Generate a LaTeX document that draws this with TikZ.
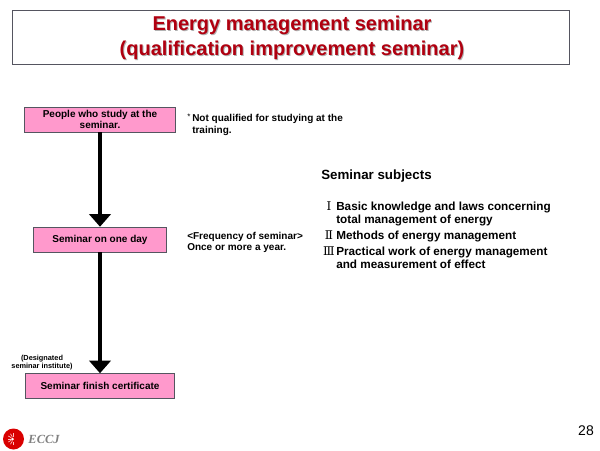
\documentclass[tikz,border=0pt]{standalone}
\usepackage{fontspec}
\setmainfont{Liberation Sans}
\newfontfamily\romanfont{DejaVu Serif}
\newfontfamily\logofont{Liberation Serif}
\usetikzlibrary{arrows.meta}
\definecolor{boxcolor}{HTML}{FF99CC}
\definecolor{titlecolor}{HTML}{B00010}
\definecolor{framecolor}{HTML}{555560}
\tikzset{
  stepbox/.style={draw=framecolor, fill=boxcolor, minimum height=18.75pt, align=center, inner sep=0pt, font=\fontsize{7.5}{7.9}\selectfont\bfseries},
  flow/.style={line width=3pt, -{Triangle[length=9.5pt, width=16pt]}},
  note/.style={anchor=north west, align=left, inner sep=0pt, font=\fontsize{7.5}{9}\selectfont\bfseries},
  subject/.style={anchor=north west, align=left, inner sep=0pt, font=\fontsize{8.8}{9.5}\selectfont\bfseries},
  numeral/.style={anchor=north, inner sep=0pt, font=\romanfont\fontsize{9}{10}\selectfont}
}
\begin{document}
\begin{tikzpicture}[x=0.75pt, y=-0.75pt]
  \useasboundingbox (0,0) rectangle (600,450);
  \node[draw=framecolor, line width=0.7pt, minimum width=418pt, minimum height=40.5pt, anchor=north west] (frame) at (12,10) {};
  \node[text=black!30, align=center, font=\fontsize{15}{18.8}\selectfont\bfseries] (shade) at (293,38.5) {Energy management seminar\\(qualification improvement seminar)};
  \node[text=titlecolor, align=center, font=\fontsize{15}{18.8}\selectfont\bfseries] (title) at (292,37.5) {Energy management seminar\\(qualification improvement seminar)};

  \node[stepbox, minimum width=113pt] (people) at (100,119.5) {People who study at the\\seminar.};
  \node[stepbox, minimum width=100pt] (oneday) at (100,239.5) {Seminar on one day};
  \node[stepbox, minimum width=112pt] (finish) at (100,386) {Seminar finish certificate};
  \draw[flow] (people) -- (oneday);
  \draw[flow] (oneday) -- (finish);

  \node[note, font=\fontsize{6}{7}\selectfont] (asterisk) at (187,114) {*};
  \node[note] (notqual) at (192,114) {Not qualified for studying at the\\training.};
  \node[note, font=\fontsize{7.5}{8.2}\selectfont\bfseries] (freq) at (187,232) {<Frequency of seminar>\\Once or more a year.};
  \node[align=center, inner sep=0pt, font=\fontsize{5.5}{6}\selectfont\bfseries] (institute) at (42,363) {(Designated\\seminar institute)};

  \node[note, font=\fontsize{10}{12}\selectfont\bfseries] (subjects) at (321,170) {Seminar subjects};
  \node[numeral] (numone) at (329,201.5) {Ⅰ};
  \node[subject] (subone) at (336,202) {Basic knowledge and laws concerning\\total management of energy};
  \node[numeral] (numtwo) at (329,230) {Ⅱ};
  \node[subject] (subtwo) at (336,231) {Methods of energy management};
  \node[numeral] (numthree) at (329,246) {Ⅲ};
  \node[subject] (subthree) at (336,247) {Practical work of energy management\\and measurement of effect};

  % logo
  \fill[red!85!black] (13.5,439) circle (10.5);
  \foreach \ang in {90,120,...,270}
    \draw[white!75!red, line width=0.5pt] (13.5,439) ++(\ang:2.5) -- ++(\ang:3.5);
  \fill[white] (12.5,439) circle (1.5);
  \node[text=black!50, font=\logofont\fontsize{9.3}{11}\selectfont\bfseries\itshape] (eccj) at (44,439) {ECCJ};
  \node[font=\fontsize{10.5}{12}\selectfont] (page) at (586,431) {28};
\end{tikzpicture}
\end{document}
